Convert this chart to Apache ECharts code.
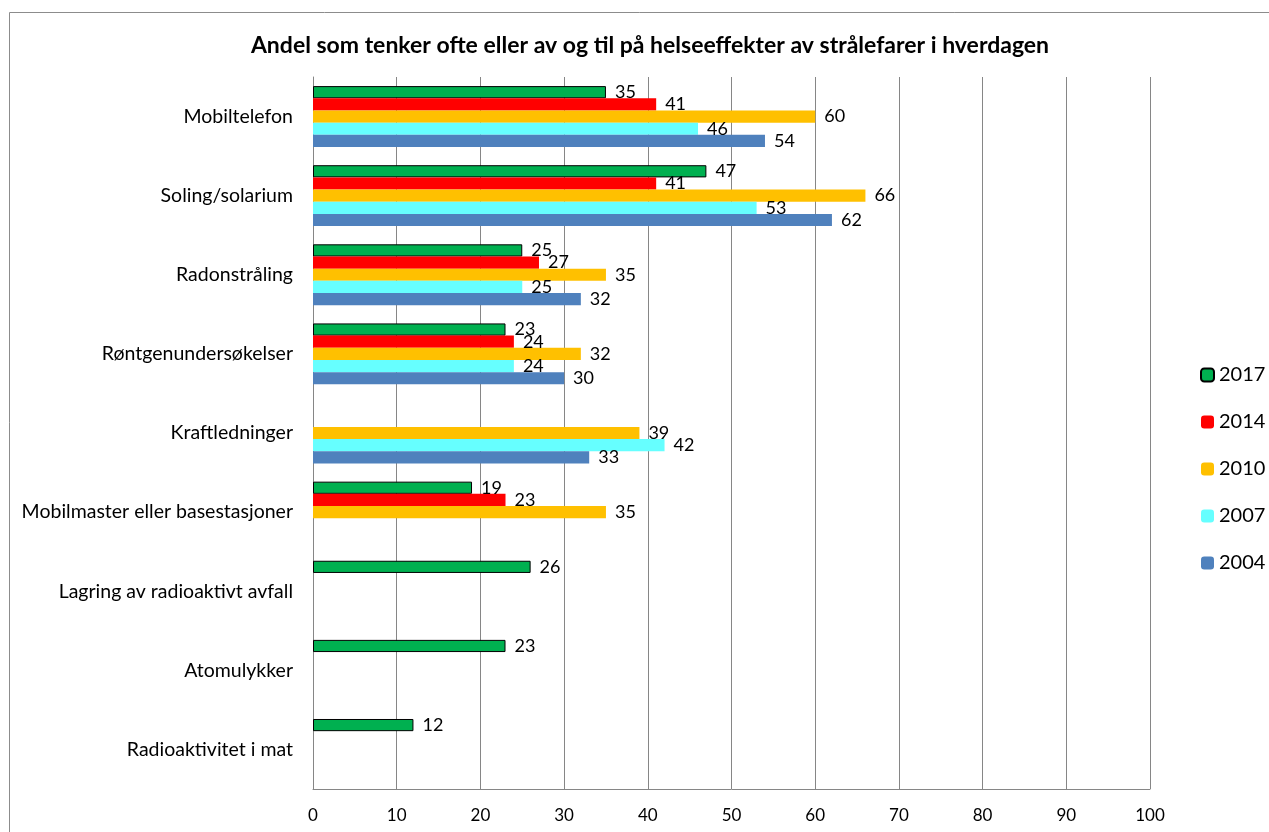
<!DOCTYPE html>
<html>
<head>
<meta charset="utf-8">
<script src="https://cdn.jsdelivr.net/npm/echarts@6/dist/echarts.min.js"></script>
<style>
html, body { margin: 0; padding: 0; background: #fff; }
#main { width: 1269px; height: 832px; }
</style>
</head>
<body>
<div id="main"></div>
<script>
// kategorier, ovenfra og ned
var kategorier = [
  'Mobiltelefon',
  'Soling/solarium',
  'Radonstråling',
  'Røntgenundersøkelser',
  'Kraftledninger',
  'Mobilmaster eller basestasjoner',
  'Lagring av radioaktivt avfall',
  'Atomulykker',
  'Radioaktivitet i mat'
];

var aar = ['2017', '2014', '2010', '2007', '2004'];

// prosent, null = ikke spurt det året
var v2017 = [35, 47, 25, 23, null, 19, 26, 23, 12];
var v2014 = [41, 41, 27, 24, null, 23, null, null, null];
var v2010 = [60, 66, 35, 32, 39, 35, null, null, null];
var v2007 = [46, 53, 25, 24, 42, null, null, null, null];
var v2004 = [54, 62, 32, 30, 33, null, null, null, null];

var farger = ['#00B050', '#FF0000', '#FFC000', '#66FFFF', '#4F81BD'];
var verdier = [v2017, v2014, v2010, v2007, v2004];

var font = 'Lato, "Open Sans", sans-serif';

var serier = [];
for (var i = 0; i < aar.length; i++) {
  var s = {
    name: aar[i],
    type: 'bar',
    data: verdier[i],
    barGap: 0,
    barCategoryGap: '23%',
    itemStyle: { color: farger[i] },
    label: {
      show: true,
      position: 'right',
      distance: 9,
      color: '#000',
      fontFamily: font,
      fontSize: 18
    }
  };
  if (i == 0) {
    s.itemStyle.borderColor = '#000';
    s.itemStyle.borderWidth = 1;
  }
  serier.push(s);
}

var chart = echarts.init(document.getElementById('main'));
chart.setOption({
  animation: false,
  backgroundColor: '#fff',
  title: {
    text: 'Andel som tenker ofte eller av og til på helseeffekter av strålefarer i hverdagen',
    left: 645,
    textAlign: 'center',
    top: 29,
    textStyle: { fontFamily: font, fontWeight: 'bold', fontSize: 23, color: '#000' }
  },
  graphic: [{
    type: 'rect',
    silent: true,
    shape: { x: 9.5, y: 12.5, width: 1400, height: 900 },
    style: { fill: null, stroke: '#8c8c8c', lineWidth: 1 }
  }],
  legend: {
    data: aar,
    orient: 'vertical',
    left: 1195,
    top: 360,
    itemWidth: 13,
    itemHeight: 13,
    itemGap: 27,
    textStyle: { fontFamily: font, fontSize: 20, color: '#000' }
  },
  grid: { left: 313, right: 119, top: 77, bottom: 43, containLabel: false },
  xAxis: {
    type: 'value',
    min: 0,
    max: 100,
    interval: 10,
    axisLine: { show: true, lineStyle: { color: '#868686' } },
    axisTick: { show: false },
    splitLine: { show: true, lineStyle: { color: '#868686', width: 1 } },
    axisLabel: { color: '#000', fontFamily: font, fontSize: 17, margin: 18 }
  },
  yAxis: {
    type: 'category',
    inverse: true,
    data: kategorier,
    axisLine: { show: true, lineStyle: { color: '#868686' } },
    axisTick: { show: false },
    axisLabel: { color: '#000', fontFamily: font, fontSize: 19.5, margin: 20 }
  },
  series: serier
});
</script>
</body>
</html>
